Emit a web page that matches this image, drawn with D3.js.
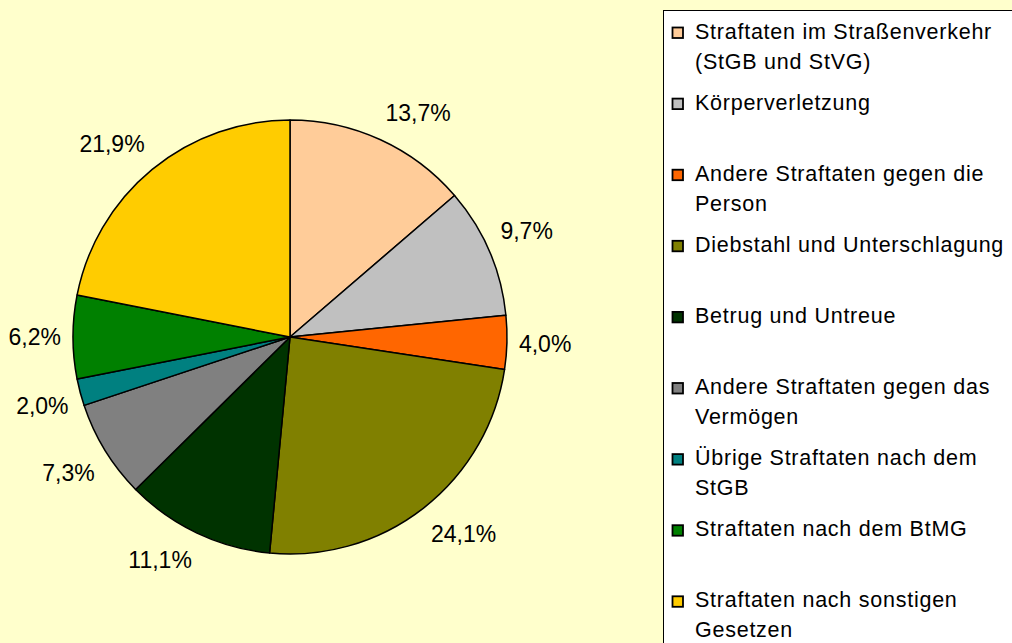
<!DOCTYPE html>
<html>
<head>
<meta charset="utf-8">
<script src="https://cdn.jsdelivr.net/npm/d3@7"></script>
<style>
  body { margin: 0; background: #FFFFCC; }
  svg { display: block; }
  svg text { font-family: "Liberation Sans", Arial, Helvetica, sans-serif; }
</style>
</head>
<body>
<svg id="drawing_region"></svg>
<script>
// Kategorien (Legendentext, Zeilenumbrüche wie im Original)
const categories = [
    "Straftaten im Straßenverkehr\n(StGB und StVG)",
    "Körperverletzung",
    "Andere Straftaten gegen die\nPerson",
    "Diebstahl und Unterschlagung",
    "Betrug und Untreue",
    "Andere Straftaten gegen das\nVermögen",
    "Übrige Straftaten nach dem\nStGB",
    "Straftaten nach dem BtMG",
    "Straftaten nach sonstigen\nGesetzen"
];
// Anteile in %
const shares = [13.7, 9.7, 4.0, 24.1, 11.1, 7.3, 2.0, 6.2, 21.9];
const colors = ["#FFCC99", "#C0C0C0", "#FF6600", "#808000", "#003300",
                "#808080", "#008080", "#008000", "#FFCC00"];

const data = categories.map((c, i) => ({ name: c, value: shares[i], color: colors[i] }));

const config = {
    width: 1012,
    height: 643,
    cx: 290,
    cy: 337,
    radius: 217
};

const svg = d3.select('#drawing_region')
    .attr('width', config.width)
    .attr('height', config.height);

svg.append('rect')
    .attr('width', config.width)
    .attr('height', config.height)
    .attr('fill', '#FFFFCC');

// Kreisdiagramm
const chart = svg.append('g')
    .attr('transform', `translate(${config.cx}, ${config.cy})`);

const pie = d3.pie().sort(null).value(d => d.value);
const arc = d3.arc().innerRadius(0).outerRadius(config.radius);
const arcs = pie(data);

chart.selectAll('path')
    .data(arcs)
    .enter()
    .append('path')
    .attr('d', arc)
    .attr('fill', d => d.data.color)
    .attr('stroke', '#000')
    .attr('stroke-width', 1.5)
    .attr('stroke-linejoin', 'round');

// Beschriftungen außen, Box an die Kreiskante angelehnt
const fmt = v => v.toFixed(1).replace('.', ',') + '%';
const labelFs = 23;
const labelR = config.radius + 12;
const halfH = 16;

chart.selectAll('text.pct')
    .data(arcs)
    .enter()
    .append('text')
    .attr('class', 'pct')
    .attr('font-size', labelFs + 'px')
    .attr('text-anchor', 'middle')
    .attr('fill', '#000')
    .text(d => fmt(d.data.value))
    .each(function(d) {
        const a = (d.startAngle + d.endAngle) / 2;
        const w = this.getComputedTextLength();
        const sx = Math.max(-1, Math.min(1, Math.sin(a) * 2.5));
        const sy = Math.max(-1, Math.min(1, Math.cos(a) * 2.5));
        const x = labelR * Math.sin(a) + sx * w / 2;
        const y = -labelR * Math.cos(a) - sy * halfH;
        d3.select(this)
            .attr('x', x)
            .attr('y', y + 0.358 * labelFs);
    });

// Legende
const legend = svg.append('g');
legend.append('rect')
    .attr('x', 663.5)
    .attr('y', 10.5)
    .attr('width', 400)
    .attr('height', 700)
    .attr('fill', '#fff')
    .attr('stroke', '#000')
    .attr('stroke-width', 1);

const firstBase = 38.5;
const step = 71.1;
const lineH = 30;

const item = legend.selectAll('g.item')
    .data(data)
    .enter()
    .append('g')
    .attr('class', 'item')
    .attr('transform', (d, i) => `translate(0, ${firstBase + i * step})`);

item.append('rect')
    .attr('x', 672.5)
    .attr('y', -11)
    .attr('width', 10.5)
    .attr('height', 10.5)
    .attr('fill', d => d.color)
    .attr('stroke', '#000')
    .attr('stroke-width', 1.8);

item.append('text')
    .attr('x', 695)
    .attr('y', 0)
    .attr('font-size', '21.5px')
    .attr('letter-spacing', '0.75px')
    .attr('fill', '#000')
    .selectAll('tspan')
    .data(d => d.name.split('\n'))
    .enter()
    .append('tspan')
    .attr('x', 695)
    .attr('dy', (t, j) => j === 0 ? 0 : lineH)
    .text(t => t);
</script>
</body>
</html>
